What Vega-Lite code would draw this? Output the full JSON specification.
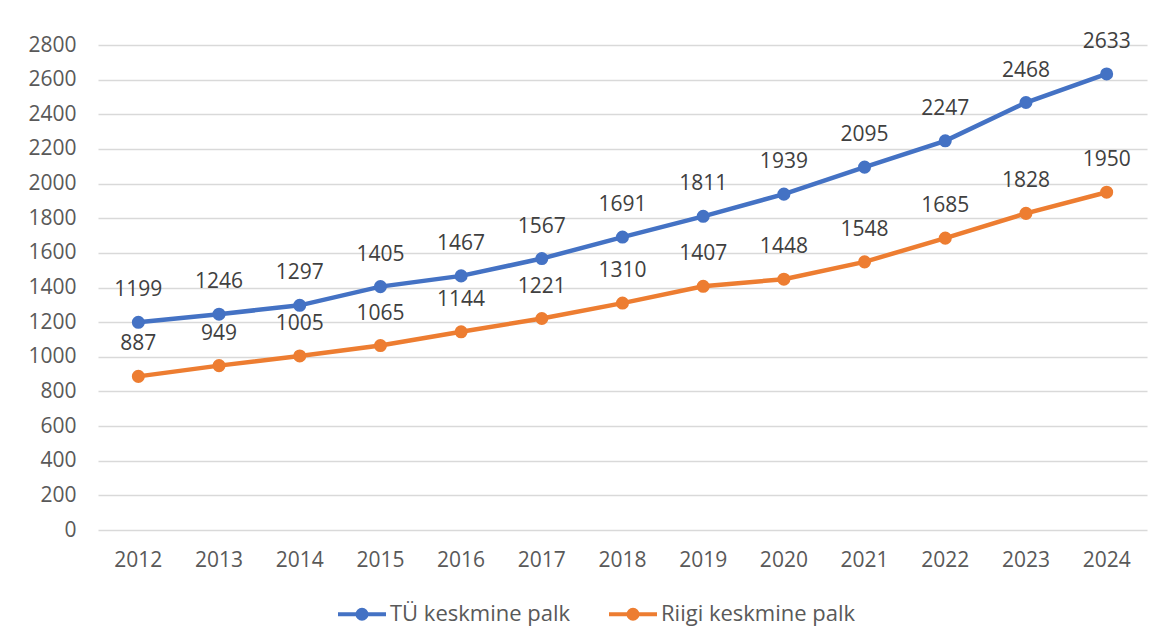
{
  "$schema": "https://vega.github.io/schema/vega-lite/v6.json",
  "autosize": "none",
  "width": 1049,
  "height": 485,
  "padding": {"left": 98, "top": 45, "right": 16, "bottom": 112},
  "background": "white",
  "config": {
    "view": {"stroke": null},
    "font": "Open Sans",
    "axis": {"labelFont": "Open Sans", "labelFontSize": 21, "labelColor": "#595959"},
    "legend": {"labelFont": "Open Sans", "labelFontSize": 22, "labelColor": "#595959", "labelLimit": 400}
  },
  "data": {
    "values": [
      {"aasta": "2012", "seeria": "TÜ keskmine palk", "palk": 1199},
      {"aasta": "2013", "seeria": "TÜ keskmine palk", "palk": 1246},
      {"aasta": "2014", "seeria": "TÜ keskmine palk", "palk": 1297},
      {"aasta": "2015", "seeria": "TÜ keskmine palk", "palk": 1405},
      {"aasta": "2016", "seeria": "TÜ keskmine palk", "palk": 1467},
      {"aasta": "2017", "seeria": "TÜ keskmine palk", "palk": 1567},
      {"aasta": "2018", "seeria": "TÜ keskmine palk", "palk": 1691},
      {"aasta": "2019", "seeria": "TÜ keskmine palk", "palk": 1811},
      {"aasta": "2020", "seeria": "TÜ keskmine palk", "palk": 1939},
      {"aasta": "2021", "seeria": "TÜ keskmine palk", "palk": 2095},
      {"aasta": "2022", "seeria": "TÜ keskmine palk", "palk": 2247},
      {"aasta": "2023", "seeria": "TÜ keskmine palk", "palk": 2468},
      {"aasta": "2024", "seeria": "TÜ keskmine palk", "palk": 2633},
      {"aasta": "2012", "seeria": "Riigi keskmine palk", "palk": 887},
      {"aasta": "2013", "seeria": "Riigi keskmine palk", "palk": 949},
      {"aasta": "2014", "seeria": "Riigi keskmine palk", "palk": 1005},
      {"aasta": "2015", "seeria": "Riigi keskmine palk", "palk": 1065},
      {"aasta": "2016", "seeria": "Riigi keskmine palk", "palk": 1144},
      {"aasta": "2017", "seeria": "Riigi keskmine palk", "palk": 1221},
      {"aasta": "2018", "seeria": "Riigi keskmine palk", "palk": 1310},
      {"aasta": "2019", "seeria": "Riigi keskmine palk", "palk": 1407},
      {"aasta": "2020", "seeria": "Riigi keskmine palk", "palk": 1448},
      {"aasta": "2021", "seeria": "Riigi keskmine palk", "palk": 1548},
      {"aasta": "2022", "seeria": "Riigi keskmine palk", "palk": 1685},
      {"aasta": "2023", "seeria": "Riigi keskmine palk", "palk": 1828},
      {"aasta": "2024", "seeria": "Riigi keskmine palk", "palk": 1950}
    ]
  },
  "encoding": {
    "x": {
      "field": "aasta", "type": "ordinal", "title": null,
      "scale": {"type": "band", "paddingInner": 0, "paddingOuter": 0},
      "axis": {"labelAngle": 0, "ticks": false, "domain": false, "grid": false, "labelPadding": 19}
    },
    "y": {
      "field": "palk", "type": "quantitative", "title": null,
      "scale": {"domain": [0, 2800], "nice": false},
      "axis": {"values": [0, 200, 400, 600, 800, 1000, 1200, 1400, 1600, 1800, 2000, 2200, 2400, 2600, 2800],
               "format": "d", "ticks": false, "domain": false, "grid": true, "gridColor": "#d9d9d9", "gridWidth": 1.3, "labelPadding": 22}
    },
    "color": {
      "field": "seeria", "type": "nominal",
      "scale": {"domain": ["TÜ keskmine palk", "Riigi keskmine palk"], "range": ["#4472C4", "#ED7D31"]},
      "legend": {
        "title": null, "orient": "none", "direction": "horizontal",
        "legendX": 238, "legendY": 543,
        "symbolType": "M-1,0L1,0M-0.0625,0a0.0625,0.0625 0 1,0 0.125,0a0.0625,0.0625 0 1,0 -0.125,0M-0.1875,0a0.1875,0.1875 0 1,0 0.375,0a0.1875,0.1875 0 1,0 -0.375,0",
        "symbolSize": 2304, "symbolStrokeWidth": 4, "labelOffset": 2, "columnPadding": 30
      }
    }
  },
  "layer": [
    {
      "mark": {"type": "line", "strokeWidth": 4.5, "point": {"filled": true, "size": 170}}
    },
    {
      "mark": {"type": "text", "fontSize": 21, "dy": -32, "baseline": "middle", "font": "Open Sans"},
      "encoding": {"text": {"field": "palk", "type": "quantitative", "format": "d"}, "color": {"value": "#404040"}}
    }
  ]
}
